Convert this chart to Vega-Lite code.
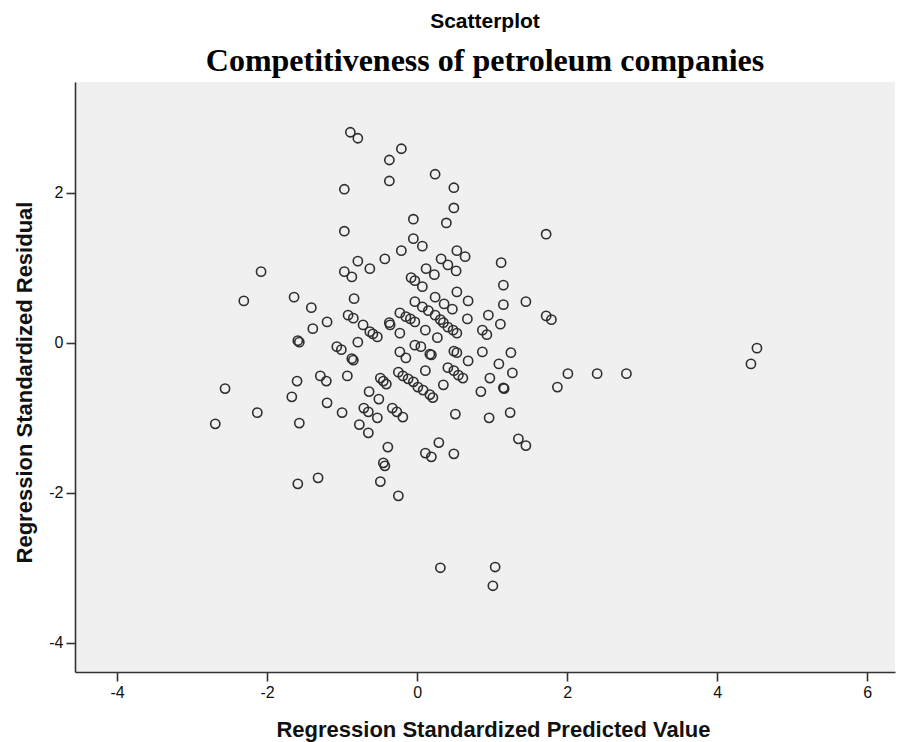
{
  "$schema": "https://vega.github.io/schema/vega-lite/v6.json",
  "width": 820,
  "height": 590,
  "autosize": {"type": "none"},
  "padding": {"left": 75, "top": 82, "right": 3, "bottom": 70},
  "background": "white",
  "title": {
    "text": "Scatterplot",
    "subtitle": "Competitiveness of petroleum companies",
    "anchor": "middle",
    "font": "Liberation Sans",
    "fontSize": 21,
    "fontWeight": "bold",
    "color": "#000000",
    "subtitleFont": "Liberation Serif",
    "subtitleFontSize": 32,
    "subtitleFontWeight": "bold",
    "subtitleColor": "#000000",
    "subtitlePadding": 14,
    "offset": 5
  },
  "config": {
    "view": {"fill": "#f0f0f0", "stroke": null},
    "axis": {
      "grid": false,
      "domainColor": "#333333",
      "domainWidth": 1.6,
      "tickColor": "#333333",
      "tickWidth": 1.6,
      "tickSize": 9,
      "labelFont": "Liberation Sans",
      "labelFontSize": 16,
      "labelColor": "#111111",
      "labelPadding": 3,
      "labelExpr": "'' + datum.value",
      "titleFont": "Liberation Sans",
      "titleFontSize": 22,
      "titleFontWeight": "bold",
      "titleColor": "#111111"
    }
  },
  "data": {
    "values": [
      {"x": -0.89, "y": 2.81}, {"x": -0.79, "y": 2.73}, {"x": -0.21, "y": 2.59}, {"x": -0.37, "y": 2.44},
      {"x": -0.37, "y": 2.16}, {"x": 0.24, "y": 2.25}, {"x": -0.97, "y": 2.05}, {"x": 0.49, "y": 2.07},
      {"x": 0.49, "y": 1.8}, {"x": -0.05, "y": 1.65}, {"x": 0.39, "y": 1.6}, {"x": -0.97, "y": 1.49},
      {"x": 1.72, "y": 1.45}, {"x": -0.05, "y": 1.39}, {"x": 0.07, "y": 1.29}, {"x": -0.21, "y": 1.23},
      {"x": 0.53, "y": 1.23}, {"x": 0.64, "y": 1.15}, {"x": -0.43, "y": 1.12}, {"x": -0.79, "y": 1.09},
      {"x": 1.12, "y": 1.07}, {"x": 0.32, "y": 1.12}, {"x": 0.41, "y": 1.04}, {"x": 0.52, "y": 0.96},
      {"x": -0.63, "y": 0.99}, {"x": -0.97, "y": 0.95}, {"x": -0.87, "y": 0.88}, {"x": -2.08, "y": 0.95},
      {"x": 0.12, "y": 0.99}, {"x": 0.23, "y": 0.91}, {"x": -0.08, "y": 0.87}, {"x": -0.03, "y": 0.83},
      {"x": 0.07, "y": 0.75}, {"x": -0.84, "y": 0.59}, {"x": -2.31, "y": 0.56}, {"x": -1.64, "y": 0.61},
      {"x": 0.53, "y": 0.68}, {"x": 0.68, "y": 0.56}, {"x": 1.15, "y": 0.77}, {"x": 1.45, "y": 0.55},
      {"x": 0.24, "y": 0.61}, {"x": 0.36, "y": 0.52}, {"x": 0.47, "y": 0.45}, {"x": -0.03, "y": 0.55},
      {"x": 0.07, "y": 0.48}, {"x": 0.15, "y": 0.43}, {"x": 0.24, "y": 0.37}, {"x": 0.31, "y": 0.31},
      {"x": -0.23, "y": 0.4}, {"x": -0.15, "y": 0.35}, {"x": -0.09, "y": 0.32}, {"x": -0.03, "y": 0.28},
      {"x": 0.35, "y": 0.27}, {"x": 0.41, "y": 0.21}, {"x": 0.48, "y": 0.17}, {"x": 0.53, "y": 0.13},
      {"x": 0.67, "y": 0.32}, {"x": -0.92, "y": 0.37}, {"x": -0.85, "y": 0.33}, {"x": -0.72, "y": 0.24},
      {"x": -1.41, "y": 0.47}, {"x": -1.2, "y": 0.28}, {"x": -1.39, "y": 0.19}, {"x": -0.37, "y": 0.27},
      {"x": -0.36, "y": 0.24}, {"x": 0.95, "y": 0.37}, {"x": 1.11, "y": 0.25}, {"x": 1.15, "y": 0.51},
      {"x": 1.72, "y": 0.36}, {"x": 1.79, "y": 0.31}, {"x": 0.87, "y": 0.17}, {"x": 0.93, "y": 0.11},
      {"x": -0.63, "y": 0.15}, {"x": -0.59, "y": 0.12}, {"x": -0.53, "y": 0.08}, {"x": -0.23, "y": 0.13},
      {"x": 0.11, "y": 0.17}, {"x": -0.79, "y": 0.01}, {"x": 0.27, "y": 0.07}, {"x": -1.59, "y": 0.03},
      {"x": -1.57, "y": 0.01}, {"x": -1.07, "y": -0.05}, {"x": -1.01, "y": -0.09}, {"x": -0.87, "y": -0.21},
      {"x": -0.85, "y": -0.23}, {"x": -0.23, "y": -0.12}, {"x": -0.15, "y": -0.2}, {"x": -0.03, "y": -0.03},
      {"x": 0.05, "y": -0.05}, {"x": 0.17, "y": -0.15}, {"x": 0.19, "y": -0.16}, {"x": 0.49, "y": -0.11},
      {"x": 0.53, "y": -0.13}, {"x": 0.68, "y": -0.24}, {"x": 0.87, "y": -0.12}, {"x": 1.25, "y": -0.13},
      {"x": 1.09, "y": -0.28}, {"x": -1.29, "y": -0.44}, {"x": -1.21, "y": -0.51}, {"x": -0.93, "y": -0.44},
      {"x": -1.6, "y": -0.51}, {"x": 0.11, "y": -0.37}, {"x": -0.25, "y": -0.39}, {"x": -0.19, "y": -0.44},
      {"x": -0.12, "y": -0.48}, {"x": -0.05, "y": -0.52}, {"x": 0.01, "y": -0.59}, {"x": 0.08, "y": -0.63},
      {"x": 0.17, "y": -0.69}, {"x": 0.21, "y": -0.73}, {"x": 0.35, "y": -0.56}, {"x": 0.41, "y": -0.33},
      {"x": 0.49, "y": -0.37}, {"x": 0.55, "y": -0.43}, {"x": 0.61, "y": -0.47}, {"x": -0.49, "y": -0.47},
      {"x": -0.45, "y": -0.51}, {"x": -0.41, "y": -0.55}, {"x": -0.64, "y": -0.65}, {"x": -0.51, "y": -0.75},
      {"x": 0.85, "y": -0.65}, {"x": 0.97, "y": -0.47}, {"x": 1.27, "y": -0.4}, {"x": 1.15, "y": -0.6},
      {"x": 1.16, "y": -0.61}, {"x": 1.87, "y": -0.59}, {"x": 2.01, "y": -0.41}, {"x": 2.4, "y": -0.41},
      {"x": 2.79, "y": -0.41}, {"x": -2.56, "y": -0.61}, {"x": -1.67, "y": -0.72}, {"x": -1.2, "y": -0.8},
      {"x": -1.0, "y": -0.93}, {"x": -0.71, "y": -0.87}, {"x": -0.65, "y": -0.92}, {"x": -0.53, "y": -1.0},
      {"x": -0.33, "y": -0.87}, {"x": -0.27, "y": -0.92}, {"x": -0.19, "y": -0.99}, {"x": -0.77, "y": -1.09},
      {"x": -0.65, "y": -1.2}, {"x": 0.51, "y": -0.95}, {"x": 1.24, "y": -0.93}, {"x": 0.96, "y": -1.0},
      {"x": -2.13, "y": -0.93}, {"x": -2.69, "y": -1.08}, {"x": -1.57, "y": -1.07}, {"x": -0.39, "y": -1.39},
      {"x": -0.45, "y": -1.6}, {"x": -0.43, "y": -1.64}, {"x": -0.49, "y": -1.85}, {"x": -0.25, "y": -2.04},
      {"x": 0.29, "y": -1.33}, {"x": 0.11, "y": -1.47}, {"x": 0.19, "y": -1.52}, {"x": 0.49, "y": -1.48},
      {"x": 1.35, "y": -1.28}, {"x": 1.45, "y": -1.37}, {"x": -1.32, "y": -1.8}, {"x": -1.59, "y": -1.88},
      {"x": 0.31, "y": -3.0}, {"x": 1.04, "y": -2.99}, {"x": 1.01, "y": -3.24}, {"x": 4.45, "y": -0.28},
      {"x": 4.53, "y": -0.07}
    ]
  },
  "mark": {"type": "point", "shape": "circle", "filled": false, "size": 85, "stroke": "#2e2e2e", "strokeWidth": 1.6, "opacity": 1},
  "encoding": {
    "x": {
      "field": "x", "type": "quantitative",
      "title": "Regression Standardized Predicted Value",
      "scale": {"domain": [-4.56, 6.37], "nice": false, "zero": false},
      "axis": {"values": [-4, -2, 0, 2, 4, 6], "titlePadding": 19, "titleX": 418}
    },
    "y": {
      "field": "y", "type": "quantitative",
      "title": "Regression Standardized Residual",
      "scale": {"domain": [-4.39, 3.48], "nice": false, "zero": false},
      "axis": {"values": [-4, -2, 0, 2], "titlePadding": 12, "titleY": 300}
    }
  }
}
